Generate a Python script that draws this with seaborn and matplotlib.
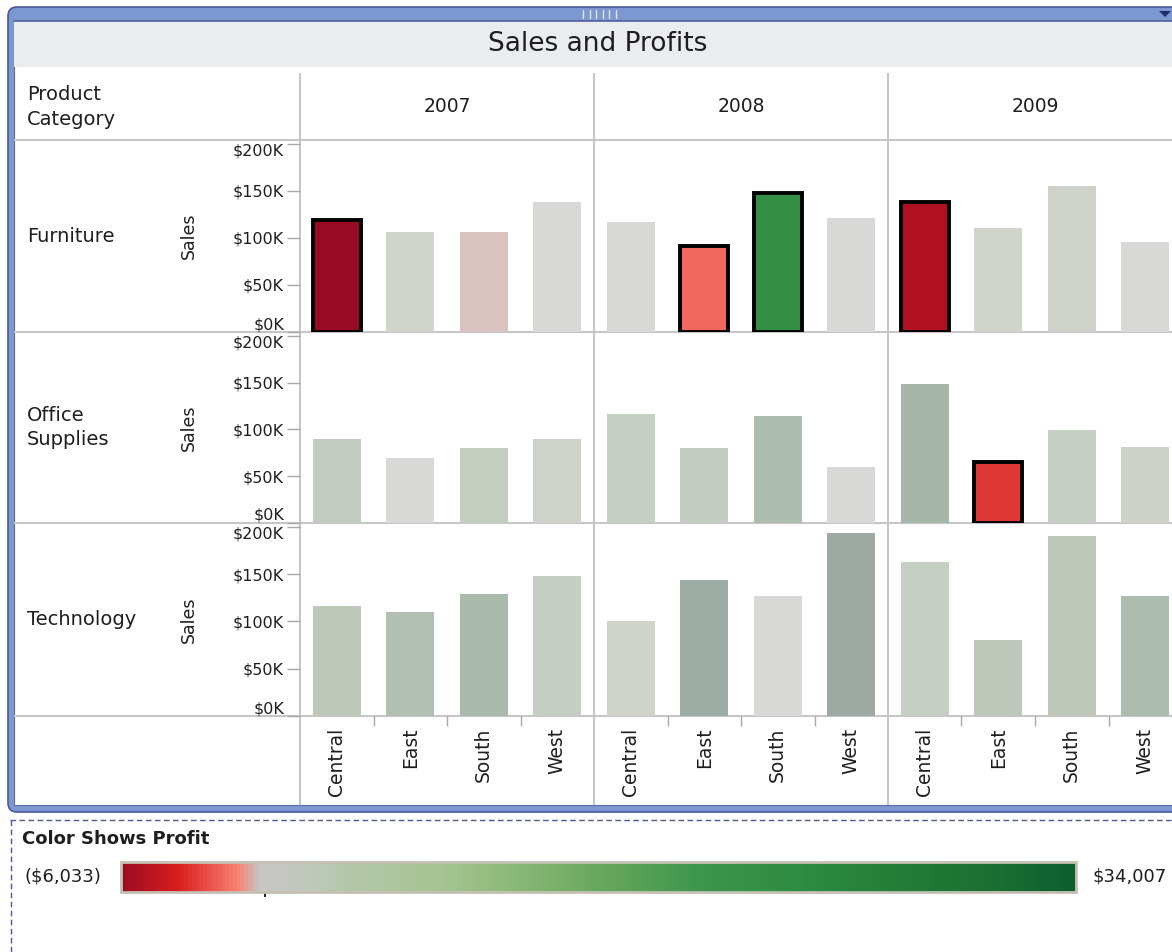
import numpy as np
import pandas as pd
import seaborn as sns
import matplotlib as mpl
from matplotlib import pyplot as plt
import matplotlib.patches as mpatches
from matplotlib.colors import LinearSegmentedColormap, Normalize, to_rgb
from matplotlib.ticker import FuncFormatter

sns.set_style('white')
plt.rcParams['font.family'] = ['DejaVu Sans']

## data: Central, East, South, West per year
years = ['2007', '2008', '2009']
categories = ['Furniture', 'Office Supplies', 'Technology']
regions = ['Central', 'East', 'South', 'West']

furniture_sales = [[119000, 106000, 106000, 138000],
                   [117000, 91000, 148000, 121000],
                   [138000, 110000, 155000, 96000]]
office_sales = [[90000, 69000, 80000, 90000],
                [116000, 80000, 114000, 60000],
                [148000, 65000, 99000, 81000]]
technology_sales = [[116000, 110000, 129000, 148000],
                    [100000, 144000, 127000, 193000],
                    [163000, 80000, 190000, 127000]]

furniture_profit = [[-6033, 6600, -1200, 400],
                    [400, -1800, 21000, 300],
                    [-5200, 6600, 8000, 1500]]
office_profit = [[12100, 400, 11400, 8000],
                 [10400, 11700, 20200, 300],
                 [25600, -3000, 10400, 8400]]
technology_profit = [[13600, 17400, 23200, 10900],
                     [7600, 32500, 400, 34007],
                     [10400, 13600, 13600, 20200]]

# marks that are selected in the view (the rest is faded)
selected = [('Furniture', '2007', 'Central'),
            ('Furniture', '2008', 'East'),
            ('Furniture', '2008', 'South'),
            ('Furniture', '2009', 'Central'),
            ('Office Supplies', '2009', 'East')]

rows = []
for cat, sales, profit in zip(categories,
                              [furniture_sales, office_sales, technology_sales],
                              [furniture_profit, office_profit, technology_profit]):
    for j, yr in enumerate(years):
        for k, reg in enumerate(regions):
            rows.append(dict(category=cat, year=yr, region=reg,
                             sales=sales[j][k], profit=profit[j][k]))
df = pd.DataFrame(rows)

## red-grey-green diverging palette of the profit legend
stop_pos = [0.0, 0.058, 0.121, 0.143, 0.184, 0.232, 0.337, 0.407, 0.512,
            0.606, 0.711, 0.816, 0.920, 1.0]
stop_rgb = [(155, 10, 35), (215, 30, 30), (250, 128, 115), (198, 198, 194),
            (196, 199, 192), (180, 200, 170), (165, 195, 145), (140, 185, 120),
            (100, 165, 90), (60, 150, 75), (45, 140, 65), (35, 125, 55),
            (25, 110, 50), (13, 94, 45)]
cmap = LinearSegmentedColormap.from_list(
    'profit', [(p, tuple(v / 255 for v in c)) for p, c in zip(stop_pos, stop_rgb)])
vmin, vmax = df['profit'].min(), df['profit'].max()
norm = Normalize(vmin=vmin, vmax=vmax)


def fade(c):
    # greyed-out look of marks that are not selected
    rgb = np.array(to_rgb(c))
    lum = 0.299 * rgb[0] + 0.587 * rgb[1] + 0.114 * rgb[2]
    grey = 0.551 + 0.382 * lum
    return tuple(np.clip(grey + 0.18 * (rgb - lum), 0, 1))


W, H = 1172, 952


def px_rect(x0, y0, x1, y1):
    return [x0 / W, 1 - y1 / H, (x1 - x0) / W, (y1 - y0) / H]


fig = plt.figure(figsize=(W / 100, H / 100), dpi=100)
fig.patch.set_facecolor('white')

# background layer in pixel coords
bg = fig.add_axes([0, 0, 1, 1])
bg.set_xlim(0, W)
bg.set_ylim(H, 0)
bg.axis('off')

bg.add_patch(mpatches.FancyBboxPatch((8, 7), 1200, 805,
                                     boxstyle='round,pad=0,rounding_size=9',
                                     fc='#7d98d0', ec='#465a98', lw=1.2))
bg.add_patch(mpatches.Rectangle((14, 21), 1200, 784, fc='white', ec='#5a6cab', lw=0.8))
bg.add_patch(mpatches.Rectangle((14, 21), 1200, 46, fc='#ebecf0', ec='none'))
bg.plot([14, 1180], [21, 21], color='#4f62a0', lw=1.2)
for i in range(6):
    bg.plot([583 + i * 6.5] * 2, [10, 18], color='#e2e8f5', lw=1)
bg.add_patch(mpatches.Polygon([(1159, 11), (1171, 11), (1165, 17)], fc='#1f2d6b', ec='none'))

grid_c = '#c6c6c6'
col_edges = [300, 594, 888, 1182]
row_edges = [140, 332, 523, 716]
for y in row_edges:
    bg.plot([14, 1180], [y, y], color=grid_c, lw=1.5, solid_capstyle='butt')
for x in col_edges[:-1]:
    bg.plot([x, x], [73, 805], color=grid_c, lw=1.5, solid_capstyle='butt')

txt_c = '#1e1e1e'
bg.text(598, 44, 'Sales and Profits', ha='center', va='center', fontsize=19, color=txt_c)
bg.text(27, 107, 'Product\nCategory', ha='left', va='center', fontsize=14,
        linespacing=1.35, color=txt_c)
for j, yr in enumerate(years):
    bg.text((col_edges[j] + col_edges[j + 1]) / 2, 107, yr, ha='center', va='center',
            fontsize=13.5, color=txt_c)
for i, cat in enumerate(categories):
    bg.text(27, (row_edges[i] + row_edges[i + 1]) / 2, cat.replace(' ', '\n'),
            ha='left', va='center', fontsize=14, linespacing=1.35, color=txt_c)

money_k = FuncFormatter(lambda v, p: f'${v / 1000:.0f}K')
row_bottoms = row_edges[1:] + [716]

for i, cat in enumerate(categories):
    top = row_edges[i]
    bottom = row_edges[i + 1] if i < 2 else 716
    for j, yr in enumerate(years):
        ax = fig.add_axes(px_rect(col_edges[j], top, col_edges[j + 1], bottom))
        ax.set_facecolor('none')
        sub = df[(df['category'] == cat) & (df['year'] == yr)]
        pal = {}
        for _, r in sub.iterrows():
            c = cmap(norm(r['profit']))
            pal[r['region']] = c if (cat, yr, r['region']) in selected else fade(c)
        sns.barplot(data=sub, x='region', y='sales', hue='region', order=regions,
                    hue_order=regions, palette=pal, saturation=1, width=0.65,
                    linewidth=0, legend=False, ax=ax)
        for patch, reg in zip(ax.patches, regions):
            if (cat, yr, reg) in selected:
                patch.set_edgecolor('black')
                patch.set_linewidth(2.8)
        ax.set_xlim(-0.5, 3.5)
        ax.set_ylim(0, 204000)
        for s in ax.spines.values():
            s.set_visible(False)
        ax.set_xlabel('')
        ax.set_ylabel('')

        if j == 0:
            ax.set_yticks([0, 50000, 100000, 150000, 200000])
            ax.yaxis.set_major_formatter(money_k)
            ax.tick_params(axis='y', left=True, length=9.5, width=1, color='#a8a8a8',
                           labelsize=11.5, pad=2, labelcolor=txt_c)
            labs = ax.get_yticklabels()
            labs[0].set_va('bottom')
            labs[-1].set_va('top')
            ax.set_ylabel('Sales', fontsize=12.5, color=txt_c)
            ax.yaxis.set_label_coords((198 - 300) / 294, 0.5)
        else:
            ax.tick_params(axis='y', left=False, labelleft=False)

        if i == len(categories) - 1:
            ax.set_xticks(range(len(regions)))
            ax.set_xticklabels(regions, rotation=90, fontsize=13.5, color=txt_c)
            ax.set_xticks([0.5, 1.5, 2.5], minor=True)
            ax.tick_params(axis='x', which='major', bottom=True, length=0, pad=8.5)
            ax.tick_params(axis='x', which='minor', bottom=True, length=7, width=1,
                           color='#a8a8a8')
        else:
            ax.tick_params(axis='x', bottom=False, labelbottom=False)

## legend for colour
bg.plot([10, 1172], [820, 820], color='#4a5a94', lw=1, ls=(0, (4, 2.5)))
bg.plot([11, 11], [820, 952], color='#4a5a94', lw=1, ls=(0, (4, 2.5)))
bg.text(22, 839, 'Color Shows Profit', ha='left', va='center', fontsize=13,
        fontweight='bold', color=txt_c)
bg.text(25, 877, f'(${abs(vmin):,.0f})', ha='left', va='center', fontsize=13, color=txt_c)
bg.text(1092, 877, f'${vmax:,.0f}', ha='left', va='center', fontsize=13, color=txt_c)

cax = fig.add_axes(px_rect(121, 862, 1076, 892))
cb = mpl.colorbar.ColorbarBase(cax, cmap=cmap, norm=norm, orientation='horizontal')
cb.outline.set_edgecolor('#c4c0b4')
cb.outline.set_linewidth(2)
cb.set_ticks([0])
cax.tick_params(axis='x', bottom=True, length=7, width=1.2, color='black',
                direction='inout', labelbottom=False)

plt.savefig('out.png', dpi=100)
plt.close()
